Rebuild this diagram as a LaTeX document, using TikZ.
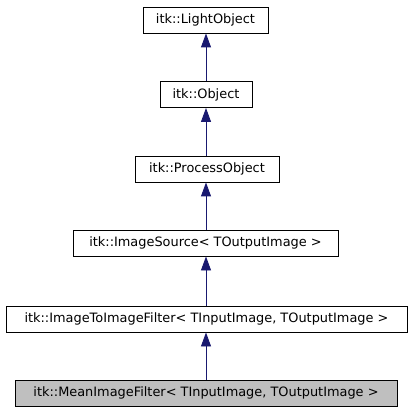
\documentclass[tikz,border=0pt]{standalone}
\usepackage{fontspec}
\setmainfont{DejaVu Sans}
\usetikzlibrary{arrows.meta}
\definecolor{Inherit}{HTML}{191970}
\definecolor{Current}{HTML}{BFBFBF}

\begin{document}
\begin{tikzpicture}[x=1pt, y=-1pt,
  classbox/.style={draw=black, line width=0.9pt, minimum height=26pt, inner sep=0pt, font=\fontsize{12.9}{14}\selectfont},
  inherit/.style={draw=Inherit, line width=0.9pt, -{Triangle[width=10pt,length=14pt]}}]

 \useasboundingbox (0,0) rectangle (411,411);

 %%%%%%%%%% Classes %%%%%%%%%%
 \node [classbox, minimum width=125pt] (LightObject) at (205.5,20) {itk::LightObject};
 \node [classbox, minimum width=92pt] (Object) at (206,94.5) {itk::Object};
 \node [classbox, minimum width=144pt] (ProcessObject) at (207,169) {itk::ProcessObject};
 \node [classbox, minimum width=265pt] (ImageSource) at (205.5,243) {itk::ImageSource< TOutputImage >};
 \node [classbox, minimum width=401pt] (ImageToImageFilter) at (206.5,319) {itk::ImageToImageFilter< TInputImage, TOutputImage >};
 \node [classbox, fill=Current, minimum width=382pt] (MeanImageFilter) at (206,393) {itk::MeanImageFilter< TInputImage, TOutputImage >};

 %%%%%%%%%% Inheritance %%%%%%%%%%
 \draw [inherit] (Object.north -| 206,0) -- (LightObject.south -| 206,0) ;
 \draw [inherit] (ProcessObject.north -| 206,0) -- (Object.south -| 206,0) ;
 \draw [inherit] (ImageSource.north -| 206,0) -- (ProcessObject.south -| 206,0) ;
 \draw [inherit] (ImageToImageFilter.north -| 206,0) -- (ImageSource.south -| 206,0) ;
 \draw [inherit] (MeanImageFilter.north -| 206,0) -- (ImageToImageFilter.south -| 206,0) ;

\end{tikzpicture}
\end{document}
